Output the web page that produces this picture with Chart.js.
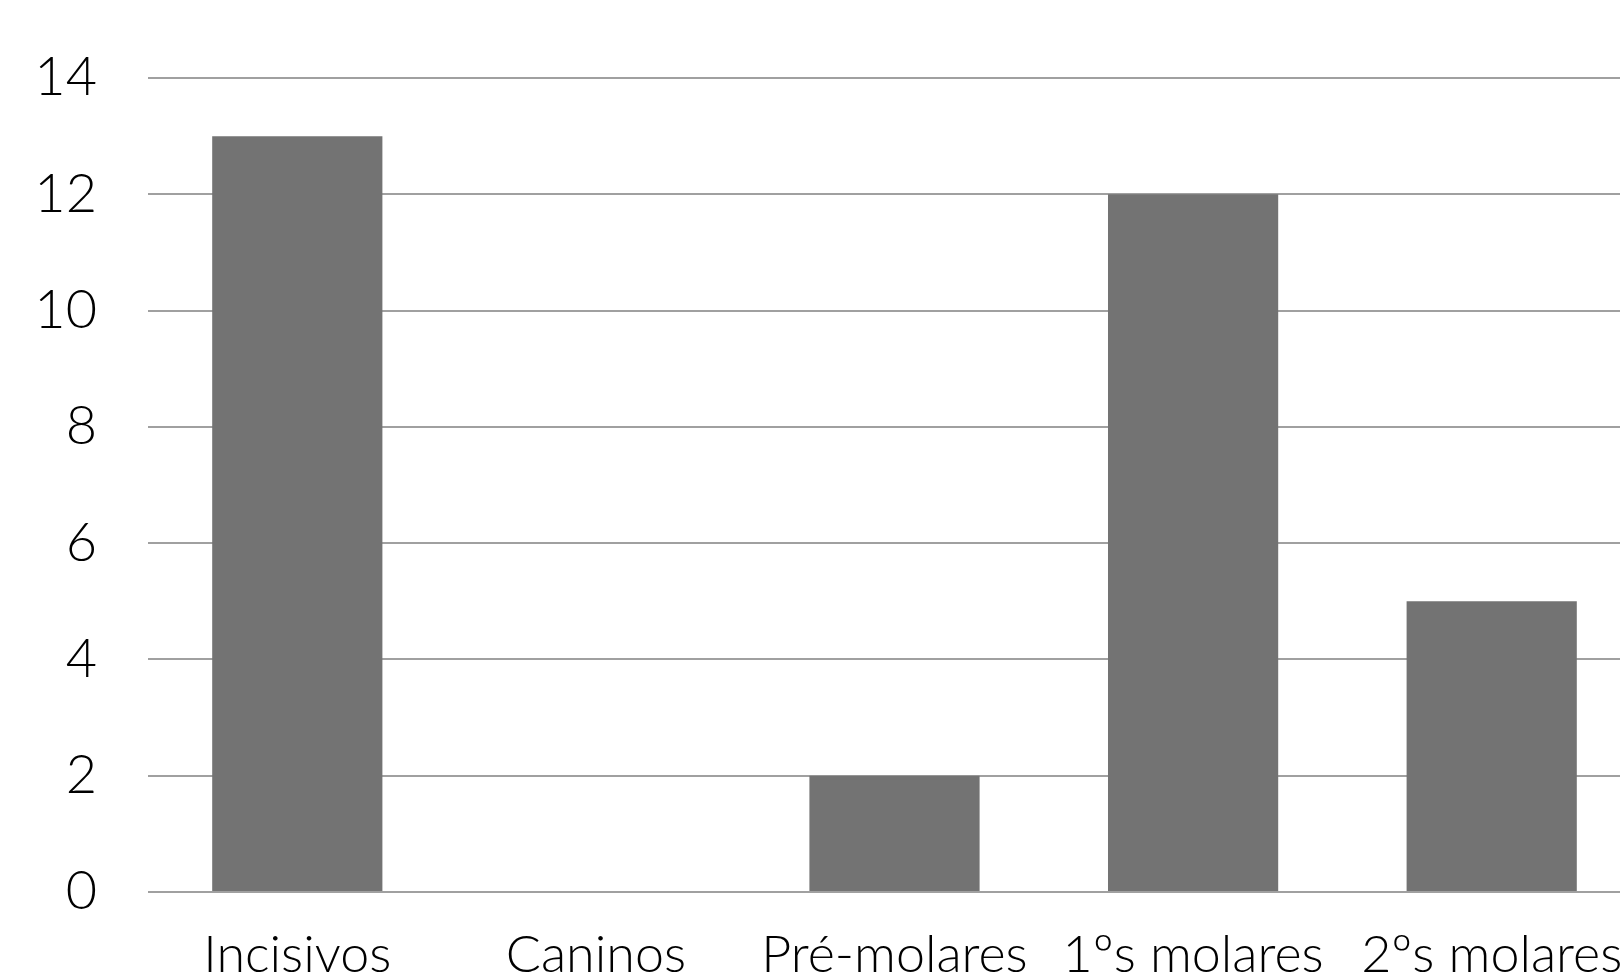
<!DOCTYPE html>
<html>
<head>
<meta charset="utf-8">
<script src="https://cdn.jsdelivr.net/npm/chart.js@4.4.1/dist/chart.umd.min.js"></script>
<style>
  html, body { margin: 0; padding: 0; background: #ffffff; overflow: hidden; }
  #wrap { width: 1641px; height: 980px; position: relative; }
</style>
</head>
<body>
<div id="wrap"><canvas id="chart"></canvas></div>
<script>
// Tipos de dente e respetivas contagens
const categories = ['Incisivos', 'Caninos', 'Pré-molares', '1ºs molares', '2ºs molares'];
const counts = [13, 0, 2, 12, 5];
const yTicks = [0, 2, 4, 6, 8, 10, 12, 14];

const FONT = 'Lato, "Open Sans", "DejaVu Sans", sans-serif';

new Chart(document.getElementById('chart'), {
  type: 'bar',
  data: {
    labels: categories,
    datasets: [{
      data: counts,
      backgroundColor: '#737373',
      borderWidth: 0,
      categoryPercentage: 1,
      barPercentage: 0.57
    }]
  },
  options: {
    responsive: true,
    maintainAspectRatio: false,
    animation: false,
    layout: { padding: { top: 75, left: 0, right: 0, bottom: 0 } },
    plugins: { legend: { display: false }, tooltip: { enabled: false } },
    scales: {
      x: {
        grid: { display: false, drawTicks: false },
        border: { display: false },
        ticks: {
          color: '#000000',
          padding: 37,
          maxRotation: 0,
          autoSkip: false,
          font: { family: FONT, size: 52, weight: 300, lineHeight: 1 }
        },
        afterFit(scale) {
          scale.height = 88;
          // keep the category band flush with the plot edges
          scale.paddingLeft = 0;
          scale.paddingRight = 0;
        }
      },
      y: {
        min: 0,
        max: 14,
        afterBuildTicks(scale) { scale.ticks = yTicks.map(v => ({ value: v })); },
        grid: { color: '#a0a0a0', lineWidth: 2, drawTicks: false },
        border: { display: false },
        ticks: {
          color: '#000000',
          padding: 51,
          font: { family: FONT, size: 54, weight: 300, lineHeight: 1 }
        },
        afterFit(scale) { scale.width = 148; }
      }
    }
  }
});
</script>
</body>
</html>
